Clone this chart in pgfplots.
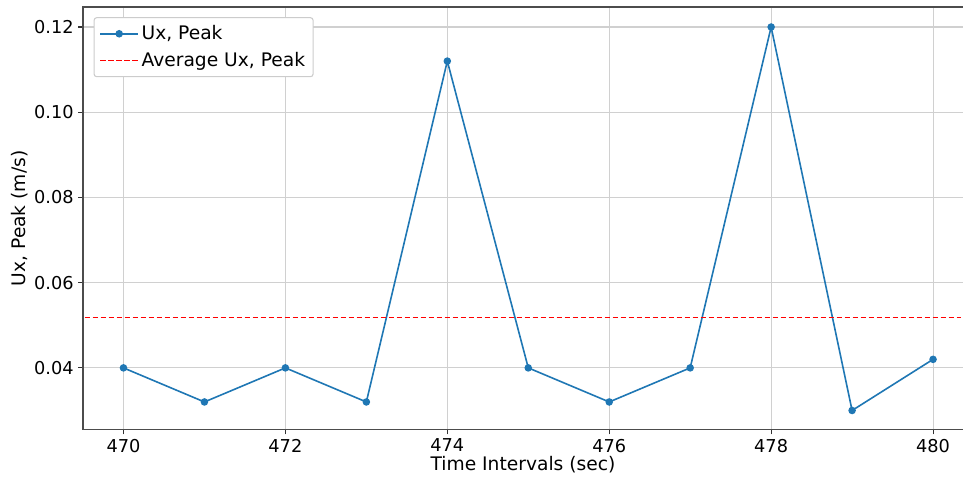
\documentclass[border=0pt]{standalone}
\usepackage{pgfplots}
\pgfplotsset{compat=1.18}
\usepackage{fontspec}
\setmainfont{DejaVu Sans}
\definecolor{mplblue}{HTML}{1F77B4}
\definecolor{gridgray}{HTML}{D0D0D0}
\begin{document}
\begin{tikzpicture}
\pgfplotstableread{
x y
470 0.040
471 0.032
472 0.040
473 0.032
474 0.112
475 0.040
476 0.032
477 0.040
478 0.120
479 0.030
480 0.042
}\peak
\begin{axis}[
  name=main,
  scale only axis,
  clip=false,
  width=660pt, height=317pt,
  xmin=469.5, xmax=480.37,
  ymin=0.0255, ymax=0.1247,
  xtick={470,472,...,480},
  ytick={0.04,0.06,0.08,0.10,0.12},
  yticklabel style={/pgf/number format/.cd,fixed,fixed zerofill,precision=2},
  xticklabel style={/pgf/number format/1000 sep={}},
  /pgf/number format/assume math mode=true,
  scaled y ticks=false,
  tick label style={font=\fontsize{13.3}{15}\selectfont},
  label style={font=\fontsize{14}{16}\selectfont},
  xlabel={Time Intervals (sec)},
  ylabel={Ux, Peak (m/s)},
  xlabel style={yshift=4pt},
  ylabel style={yshift=-2pt},
  grid=major,
  major grid style={gridgray, line width=0.8pt},
  axis line style={draw=none},
  tick align=outside,
  major tick length=3.5pt,
  tick style={black!80, line width=0.8pt},
  xtick pos=bottom, ytick pos=left,
  legend cell align=left,
  legend style={font=\fontsize{14}{16}\selectfont, draw=black!20, line width=0.8pt, rounded corners=2pt, fill=white, inner xsep=4pt, inner ysep=4pt, at={(0.012,0.976)}, anchor=north west, row sep=4pt},
  legend image code/.code={\draw[mark repeat=2,mark phase=2,#1] plot coordinates {(0cm,0cm) (0.5cm,0cm) (1.0cm,0cm)};},
]
\addplot[mplblue, line width=1.2pt, mark=*, mark size=2.2pt, mark options={solid, fill=mplblue, draw=mplblue}] table[x=x,y=y] {\peak};
\addlegendentry{Ux, Peak}
\addplot[red, dash pattern=on 4pt off 2pt, line width=1.2pt] coordinates {(469.52,0.0518) (475,0.0518) (480.35,0.0518)};
\addlegendentry{Average Ux, Peak}
\end{axis}
\draw[black!70, line width=0.8pt] (main.south west) -- (main.north west) -- (main.north east);
\draw[black!70, line width=0.8pt] (main.south west) -- (main.south east);
\pgfresetboundingbox
\path[use as bounding box] ([xshift=-62.25pt, yshift=-36.75pt]main.south west) rectangle ([yshift=5.25pt]main.north east);
\end{tikzpicture}
\end{document}
